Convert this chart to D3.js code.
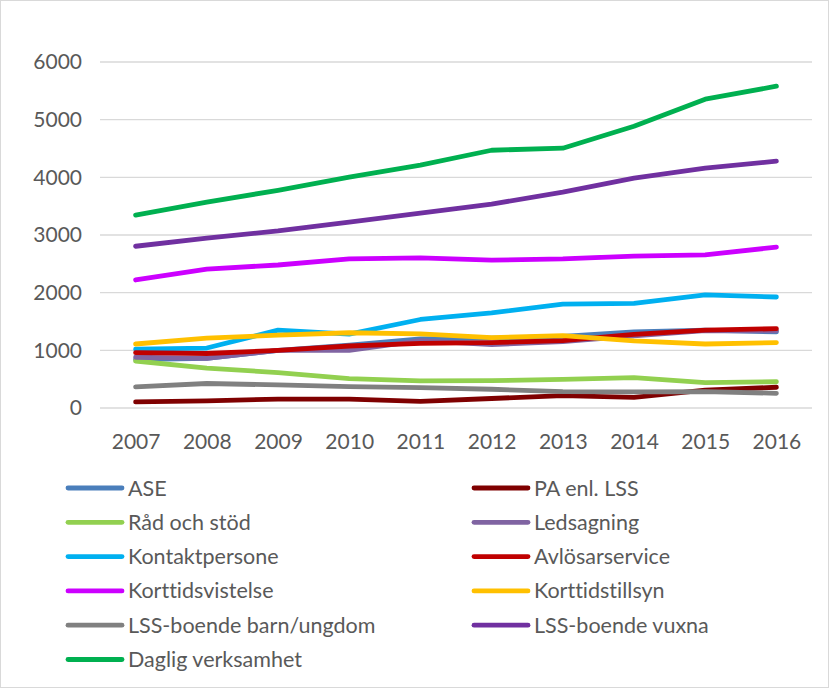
<!DOCTYPE html>
<html>
<head>
<meta charset="utf-8">
<script src="https://cdn.jsdelivr.net/npm/d3@7"></script>
<style>
  body { margin: 0; background: #fff; }
  text { font-family: Lato, "Open Sans", sans-serif; fill: #595959; font-variant-ligatures: none; }
</style>
</head>
<body>
<div id="wrapper"></div>
<script>
const years = [2007, 2008, 2009, 2010, 2011, 2012, 2013, 2014, 2015, 2016]
const yTicks = [0, 1000, 2000, 3000, 4000, 5000, 6000]

const seriesNames = ["ASE", "PA enl. LSS", "Råd och stöd", "Ledsagning", "Kontaktpersone",
    "Avlösarservice", "Korttidsvistelse", "Korttidstillsyn", "LSS-boende barn/ungdom",
    "LSS-boende vuxna", "Daglig verksamhet"]
const seriesColors = ["#4a7ebb", "#7f0000", "#92d050", "#8064a2", "#00b0f0",
    "#c00000", "#cc00ff", "#ffc000", "#808080", "#7030a0", "#00b050"]

const ase = [840, 860, 1000, 1090, 1200, 1210, 1240, 1320, 1350, 1320]
const paLss = [105, 125, 155, 155, 115, 165, 215, 185, 310, 360]
const radStod = [815, 690, 615, 510, 470, 475, 495, 525, 440, 455]
const ledsagning = [880, 860, 1000, 1000, 1170, 1100, 1150, 1250, 1340, 1340]
const kontakt = [1020, 1040, 1350, 1280, 1535, 1650, 1800, 1815, 1960, 1925]
const avlosar = [960, 945, 1000, 1075, 1120, 1135, 1170, 1275, 1350, 1375]
const korttidsvistelse = [2220, 2410, 2480, 2585, 2605, 2565, 2585, 2635, 2655, 2790]
const korttidstillsyn = [1110, 1210, 1265, 1305, 1285, 1220, 1255, 1165, 1110, 1135]
const lssBarn = [365, 425, 400, 370, 355, 325, 285, 280, 285, 255]
const lssVuxna = [2805, 2945, 3070, 3225, 3380, 3535, 3745, 3985, 4160, 4280]
const daglig = [3345, 3570, 3775, 4005, 4210, 4470, 4505, 4885, 5355, 5580]

const seriesValues = [ase, paLss, radStod, ledsagning, kontakt, avlosar,
    korttidsvistelse, korttidstillsyn, lssBarn, lssVuxna, daglig]

const dimensions = {
    width: 829,
    height: 688,
    margin: { top: 62, right: 17, bottom: 280, left: 100 },
}
dimensions.boundedWidth = dimensions.width - dimensions.margin.left - dimensions.margin.right
dimensions.boundedHeight = dimensions.height - dimensions.margin.top - dimensions.margin.bottom

const svg = d3.select("#wrapper").append("svg")
    .attr("width", dimensions.width)
    .attr("height", dimensions.height)

// chart border
svg.append("rect")
    .attr("x", 0.5).attr("y", 0.5)
    .attr("width", dimensions.width - 1).attr("height", dimensions.height - 1)
    .attr("fill", "#fff").attr("stroke", "#d9d9d9")

const bounds = svg.append("g")
    .attr("transform", `translate(${dimensions.margin.left},${dimensions.margin.top})`)

const xScale = d3.scalePoint()
    .domain(years)
    .range([0, dimensions.boundedWidth])
    .padding(0.5)

const yScale = d3.scaleLinear()
    .domain([0, 6000])
    .range([dimensions.boundedHeight, 0])

// gridlines
bounds.append("g")
    .selectAll("line")
    .data(yTicks)
    .join("line")
    .attr("x1", 0).attr("x2", dimensions.boundedWidth)
    .attr("y1", d => yScale(d)).attr("y2", d => yScale(d))
    .attr("stroke", "#d9d9d9").attr("stroke-width", 1.3)

const yAxis = bounds.append("g")
    .call(d3.axisLeft(yScale).tickValues(yTicks).tickSize(0).tickPadding(18).tickFormat(d3.format("d")))
yAxis.select(".domain").remove()
yAxis.selectAll("text").style("font-size", "21px")

const xAxis = bounds.append("g")
    .attr("transform", `translate(0,${dimensions.boundedHeight})`)
    .call(d3.axisBottom(xScale).tickSize(0).tickPadding(26).tickFormat(d3.format("d")))
xAxis.select(".domain").remove()
xAxis.selectAll("text").style("font-size", "21px")

const lineGenerator = d3.line()
    .x((d, i) => xScale(years[i]))
    .y(d => yScale(d))

bounds.append("g")
    .selectAll("path")
    .data(seriesValues)
    .join("path")
    .attr("d", d => lineGenerator(d))
    .attr("fill", "none")
    .attr("stroke", (d, i) => seriesColors[i])
    .attr("stroke-width", 4.8)
    .attr("stroke-linecap", "round")
    .attr("stroke-linejoin", "round")

// legend, two columns
const legend = svg.append("g")
const legendItems = legend.selectAll("g")
    .data(seriesNames)
    .join("g")
    .attr("transform", (d, i) => `translate(${i % 2 === 0 ? 68 : 474},${488 + Math.floor(i / 2) * 34.3})`)
legendItems.append("line")
    .attr("x1", 0).attr("x2", 54)
    .attr("stroke", (d, i) => seriesColors[i])
    .attr("stroke-width", 4.8)
    .attr("stroke-linecap", "round")
legendItems.append("text")
    .attr("x", 60)
    .attr("dy", "0.35em")
    .style("font-size", "21.5px")
    .text(d => d)
</script>
</body>
</html>
